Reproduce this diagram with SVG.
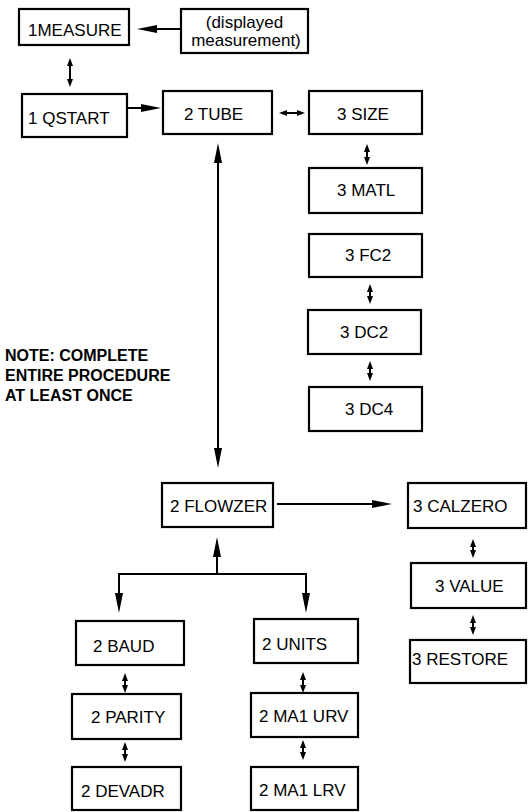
<svg xmlns="http://www.w3.org/2000/svg" width="530" height="812" viewBox="0 0 530 812">
<style>
.box{fill:#fff;stroke:#000;stroke-width:2.2}
.t{font-family:"Liberation Sans",Arial,sans-serif;font-size:17px;fill:#000}
.note{font-family:"Liberation Sans",Arial,sans-serif;font-size:16px;font-weight:bold;fill:#000}
.c{fill:none;stroke:#000;stroke-width:2}
.big{marker-end:url(#big)}
.dbl{marker-start:url(#sm);marker-end:url(#sm)}
</style>
<defs>
<marker id="big" markerUnits="userSpaceOnUse" markerWidth="20" markerHeight="8" viewBox="0 0 20 8" refX="14" refY="4" orient="auto-start-reverse"><path d="M0,0 L20,4 L0,8 z" fill="#000"/></marker>
<marker id="sm" markerUnits="userSpaceOnUse" markerWidth="8" markerHeight="6" viewBox="0 0 8 6" refX="5" refY="3" orient="auto-start-reverse"><path d="M0,0 L8,3 L0,6 z" fill="#000"/></marker>
</defs>
<g id="connectors">
<line class="c big" x1="181" y1="29" x2="143" y2="29"/>
<line class="c dbl" x1="70" y1="61" x2="70" y2="84"/>
<line class="c big" x1="127" y1="108" x2="155" y2="108"/>
<line class="c dbl" x1="282" y1="113" x2="302" y2="113"/>
<line class="c dbl" x1="367" y1="147" x2="367" y2="162"/>
<line class="c dbl" x1="370" y1="287" x2="370" y2="301"/>
<line class="c dbl" x1="370" y1="364" x2="370" y2="378"/>
<line class="c" x1="218" y1="149" x2="218" y2="462" style="marker-start:url(#big);marker-end:url(#big)"/>
<line class="c big" x1="277" y1="504" x2="386" y2="504"/>
<line class="c dbl" x1="473" y1="542" x2="473" y2="555"/>
<line class="c dbl" x1="473" y1="618" x2="473" y2="632"/>
<path class="c" d="M119,607 V574 H306 V607" style="marker-start:url(#big);marker-end:url(#big)"/>
<line class="c big" x1="217" y1="574" x2="217" y2="543"/>
<line class="c dbl" x1="125" y1="676" x2="125" y2="690"/>
<line class="c dbl" x1="125" y1="745" x2="125" y2="759"/>
<line class="c dbl" x1="303" y1="675" x2="303" y2="690"/>
<line class="c dbl" x1="303" y1="743" x2="303" y2="757"/>
</g>
<g id="n-measure"><rect class="box" x="19" y="9" width="110" height="36"/><text class="t" x="28" y="36">1MEASURE</text></g>
<g id="n-displayed"><rect class="box" x="181" y="9" width="127" height="44"/><text class="t" x="244.5" y="28" text-anchor="middle">(displayed</text><text class="t" x="246" y="46" text-anchor="middle">measurement)</text></g>
<g id="n-qstart"><rect class="box" x="22" y="94" width="105" height="43"/><text class="t" x="28" y="124">1 QSTART</text></g>
<g id="n-tube"><rect class="box" x="163" y="91" width="109" height="43"/><text class="t" x="184" y="120">2 TUBE</text></g>
<g id="n-size"><rect class="box" x="309" y="91" width="113" height="43"/><text class="t" x="337" y="120">3 SIZE</text></g>
<g id="n-matl"><rect class="box" x="309" y="168" width="113" height="45"/><text class="t" x="337" y="196">3 MATL</text></g>
<g id="n-fc2"><rect class="box" x="309" y="234" width="113" height="43"/><text class="t" x="345" y="261">3 FC2</text></g>
<g id="n-dc2"><rect class="box" x="308" y="310" width="113" height="44"/><text class="t" x="340" y="338">3 DC2</text></g>
<g id="n-dc4"><rect class="box" x="309" y="387" width="113" height="44"/><text class="t" x="345" y="415">3 DC4</text></g>
<g id="n-note"><text class="note" x="5" y="361">NOTE: COMPLETE</text><text class="note" x="5" y="381">ENTIRE PROCEDURE</text><text class="note" x="5" y="401">AT LEAST ONCE</text></g>
<g id="n-flowzer"><rect class="box" x="162" y="483" width="111" height="44"/><text class="t" x="170" y="512">2 FLOWZER</text></g>
<g id="n-calzero"><rect class="box" x="408" y="483" width="118" height="45"/><text class="t" x="413" y="512">3 CALZERO</text></g>
<g id="n-value"><rect class="box" x="411" y="563" width="115" height="45"/><text class="t" x="435" y="592">3 VALUE</text></g>
<g id="n-restore"><rect class="box" x="410" y="640" width="116" height="43"/><text class="t" x="412" y="665">3 RESTORE</text></g>
<g id="n-baud"><rect class="box" x="76" y="621" width="108" height="44"/><text class="t" x="93" y="652">2 BAUD</text></g>
<g id="n-parity"><rect class="box" x="72" y="694" width="109" height="45"/><text class="t" x="91" y="723">2 PARITY</text></g>
<g id="n-devadr"><rect class="box" x="72" y="767" width="109" height="43"/><text class="t" x="81" y="797">2 DEVADR</text></g>
<g id="n-units"><rect class="box" x="254" y="619" width="104" height="44"/><text class="t" x="262" y="650">2 UNITS</text></g>
<g id="n-ma1urv"><rect class="box" x="251" y="693" width="107" height="44"/><text class="t" x="259" y="722">2 MA1 URV</text></g>
<g id="n-ma1lrv"><rect class="box" x="251" y="767" width="107" height="43"/><text class="t" x="259" y="796">2 MA1 LRV</text></g>
</svg>
